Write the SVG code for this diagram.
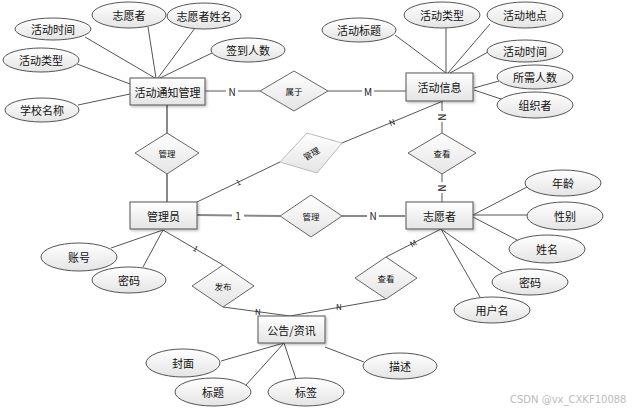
<svg xmlns="http://www.w3.org/2000/svg" width="635" height="410" viewBox="0 0 635 410">
<defs>
<linearGradient id="g" x1="0" y1="0" x2="0" y2="1">
<stop offset="0" stop-color="#ffffff"/>
<stop offset="1" stop-color="#e4e4e4"/>
</linearGradient>
<filter id="sh" x="-20%" y="-20%" width="150%" height="160%">
<feDropShadow dx="1.5" dy="1.5" stdDeviation="1" flood-color="#000" flood-opacity="0.25"/>
</filter>
<style>
text{font-family:"Noto Sans CJK SC","Noto Sans",sans-serif;fill:#111;text-anchor:middle;dominant-baseline:central}
.ent rect{fill:url(#g);stroke:#555;stroke-width:1;filter:url(#sh)}
.ent text{font-size:11px}
.att ellipse{fill:url(#g);stroke:#555;stroke-width:1}
.att text{font-size:11px}
.rel polygon{fill:url(#g);stroke:#666;stroke-width:1}
.rel text{font-size:8.5px}
.lite polygon{stroke:#bbb}
.c line,.c polyline{stroke:#555;stroke-width:1;fill:none}
.c .thick{stroke:#888;stroke-width:2}
.lbl{font-size:10px;fill:#222}
.lbls{font-size:8px;fill:#222}
.wm{font-family:"DejaVu Sans",sans-serif;font-size:10px;fill:#bbb;text-anchor:start}
</style>
</defs>
<rect width="635" height="410" fill="#fff"/>
<g id="connectors" class="c">
<!-- 活动通知管理 attributes -->
<line x1="85" y1="37" x2="155" y2="78"/>
<line x1="148" y1="27" x2="156" y2="78"/>
<line x1="195" y1="28" x2="158" y2="78"/>
<line x1="212" y1="53" x2="160" y2="78"/>
<line x1="77" y1="64" x2="130" y2="84"/>
<line x1="78" y1="105" x2="130" y2="94"/>
<!-- 活动信息 attributes -->
<line x1="395" y1="35" x2="446" y2="73"/>
<line x1="446" y1="28" x2="446" y2="73"/>
<line x1="490" y1="24" x2="448" y2="73"/>
<line x1="488" y1="52" x2="450" y2="73"/>
<line x1="499" y1="81" x2="474" y2="88"/>
<line x1="504" y1="100" x2="474" y2="90"/>
<!-- relationships -->
<line x1="205" y1="91" x2="260" y2="91"/>
<line x1="328" y1="91" x2="406" y2="91"/>
<line x1="167" y1="105" x2="167" y2="133" class="thick"/>
<line x1="167" y1="174" x2="167" y2="202" class="thick"/>
<line x1="197" y1="215" x2="280" y2="216" class="thick"/>
<line x1="342" y1="216" x2="405" y2="216" class="thick"/>
<line x1="197" y1="202" x2="280" y2="162"/>
<line x1="342" y1="143" x2="443" y2="101"/>
<line x1="442" y1="101" x2="442" y2="133"/>
<line x1="442" y1="174" x2="442" y2="202"/>
<!-- 管理员 attributes -->
<line x1="163" y1="230" x2="111" y2="248"/>
<line x1="163" y1="230" x2="143" y2="267"/>
<line x1="163" y1="230" x2="223" y2="265"/>
<line x1="223" y1="307" x2="290" y2="316"/>
<line x1="290" y1="316" x2="386" y2="299"/>
<line x1="386" y1="257" x2="441" y2="229"/>
<!-- 志愿者 attributes -->
<line x1="441" y1="229" x2="480" y2="297"/>
<line x1="441" y1="229" x2="502" y2="272"/>
<line x1="473" y1="215" x2="527" y2="187"/>
<line x1="473" y1="215" x2="527" y2="215"/>
<line x1="473" y1="217" x2="517" y2="240"/>
<!-- 公告 attributes -->
<line x1="284" y1="343" x2="221" y2="361"/>
<line x1="284" y1="343" x2="246" y2="385"/>
<line x1="284" y1="343" x2="296" y2="379"/>
<line x1="325" y1="347" x2="364" y2="362"/>
<!-- cardinality labels -->
<rect x="226" y="85" width="12" height="12" fill="#fff"/>
<text class="lbl" x="232" y="91">N</text>
<rect x="362" y="85" width="12" height="12" fill="#fff"/>
<text class="lbl" x="368" y="91">M</text>
<rect x="232" y="209" width="12" height="12" fill="#fff"/>
<text class="lbl" x="238" y="215">1</text>
<rect x="367" y="209" width="12" height="12" fill="#fff"/>
<text class="lbl" x="373" y="215">N</text>
<text class="lbls" x="238" y="182" transform="rotate(-25 238 182)">1</text>
<text class="lbls" x="392" y="122" transform="rotate(-22 392 122)">N</text>
<rect x="437" y="111" width="10" height="11" fill="#fff"/>
<text class="lbl" x="442" y="117" transform="rotate(90 442 117)">N</text>
<rect x="437" y="182" width="10" height="11" fill="#fff"/>
<text class="lbl" x="442" y="188" transform="rotate(90 442 188)">N</text>
<text class="lbls" x="196" y="248" transform="rotate(30 196 248)">1</text>
<text class="lbls" x="258" y="311">N</text>
<text class="lbls" x="339" y="306">N</text>
<text class="lbls" x="413" y="243" transform="rotate(-27 413 243)">M</text>
</g>
<g id="n-huodongtongzhi" class="ent"><rect x="130" y="78" width="75" height="27"/><text x="167.5" y="91.5">活动通知管理</text></g>
<g id="n-huodongxinxi" class="ent"><rect x="406" y="73" width="67" height="28"/><text x="439.5" y="87">活动信息</text></g>
<g id="n-guanliyuan" class="ent"><rect x="130" y="202" width="67" height="27"/><text x="163.5" y="215.5">管理员</text></g>
<g id="n-zhiyuanzhe" class="ent"><rect x="406" y="202" width="67" height="27"/><text x="439.5" y="215.5">志愿者</text></g>
<g id="n-gonggao" class="ent"><rect x="258" y="316" width="67" height="27"/><text x="291.5" y="329.5">公告/资讯</text></g>

<g id="a-hdsj1" class="att"><ellipse cx="53" cy="29" rx="38" ry="11"/><text x="53" y="29">活动时间</text></g>
<g id="a-zyz" class="att"><ellipse cx="129" cy="15" rx="37" ry="13"/><text x="129" y="15">志愿者</text></g>
<g id="a-zyzxm" class="att"><ellipse cx="204" cy="16" rx="37" ry="13"/><text x="204" y="16">志愿者姓名</text></g>
<g id="a-qdrs" class="att"><ellipse cx="248" cy="50" rx="37" ry="12"/><text x="248" y="50">签到人数</text></g>
<g id="a-hdlx1" class="att"><ellipse cx="41" cy="60" rx="38" ry="12"/><text x="41" y="60">活动类型</text></g>
<g id="a-xxmc" class="att"><ellipse cx="42" cy="110" rx="37" ry="12"/><text x="42" y="110">学校名称</text></g>

<g id="a-hdbt" class="att"><ellipse cx="359" cy="30" rx="37" ry="12"/><text x="359" y="30">活动标题</text></g>
<g id="a-hdlx2" class="att"><ellipse cx="442" cy="15" rx="38" ry="13"/><text x="442" y="15">活动类型</text></g>
<g id="a-hddd" class="att"><ellipse cx="525" cy="15" rx="38" ry="13"/><text x="525" y="15">活动地点</text></g>
<g id="a-hdsj2" class="att"><ellipse cx="525" cy="51" rx="38" ry="11"/><text x="525" y="51">活动时间</text></g>
<g id="a-sxrs" class="att"><ellipse cx="535" cy="77" rx="38" ry="12"/><text x="535" y="77">所需人数</text></g>
<g id="a-zzz" class="att"><ellipse cx="535" cy="105" rx="38" ry="13"/><text x="535" y="105">组织者</text></g>

<g id="a-nl" class="att"><ellipse cx="563" cy="183" rx="38" ry="13"/><text x="563" y="183">年龄</text></g>
<g id="a-xb" class="att"><ellipse cx="565" cy="216" rx="38" ry="14"/><text x="565" y="216">性别</text></g>
<g id="a-xm" class="att"><ellipse cx="547" cy="249" rx="38" ry="14"/><text x="547" y="249">姓名</text></g>
<g id="a-mm2" class="att"><ellipse cx="530" cy="282" rx="38" ry="13"/><text x="530" y="282">密码</text></g>
<g id="a-yhm" class="att"><ellipse cx="492" cy="310" rx="38" ry="13"/><text x="492" y="310">用户名</text></g>

<g id="a-zh" class="att"><ellipse cx="79" cy="257" rx="38" ry="14"/><text x="79" y="257">账号</text></g>
<g id="a-mm1" class="att"><ellipse cx="129" cy="280" rx="37" ry="13"/><text x="129" y="280">密码</text></g>

<g id="a-fm" class="att"><ellipse cx="183" cy="363" rx="37" ry="14"/><text x="183" y="363">封面</text></g>
<g id="a-bt" class="att"><ellipse cx="213" cy="392" rx="38" ry="14"/><text x="213" y="392">标题</text></g>
<g id="a-bq" class="att"><ellipse cx="306" cy="392" rx="38" ry="14"/><text x="306" y="392">标签</text></g>
<g id="a-ms" class="att"><ellipse cx="400" cy="366" rx="37" ry="13"/><text x="400" y="366">描述</text></g>

<g id="r-shuyu" class="rel"><polygon points="294,71 328,91 294,111 260,91"/><text x="294" y="91">属于</text></g>
<g id="r-guanli1" class="rel"><polygon points="167,133 199,153 167,174 135,153"/><text x="167" y="153">管理</text></g>
<g id="r-chakan1" class="rel"><polygon points="442,133 476,153 442,174 408,153"/><text x="442" y="153">查看</text></g>
<g id="r-guanli2" class="rel"><polygon points="311,195 342,216 311,237 280,216"/><text x="311" y="216">管理</text></g>
<g id="r-guanli3" class="rel lite"><polygon points="307,133 342,143 317,173 280,162"/><text x="311" y="153" transform="rotate(-30 311 153)">管理</text></g>
<g id="r-fabu" class="rel"><polygon points="223,265 254,286 223,307 192,286"/><text x="223" y="286">发布</text></g>
<g id="r-chakan2" class="rel"><polygon points="386,257 417,278 386,299 355,278"/><text x="386" y="278">查看</text></g>

<text class="wm" x="510" y="399">CSDN @vx_CXKF10088</text>
</svg>
